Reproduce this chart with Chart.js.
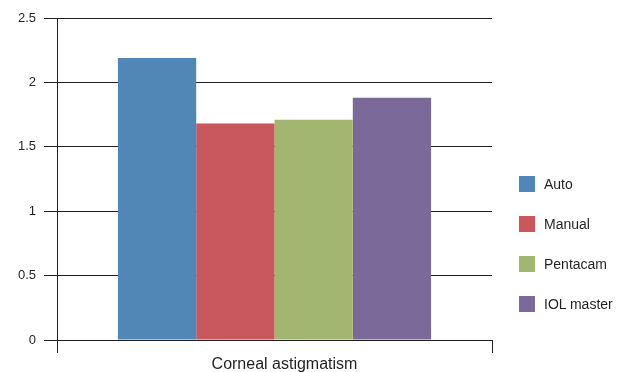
<!DOCTYPE html>
<html>
<head>
<meta charset="utf-8">
<script src="https://cdn.jsdelivr.net/npm/chart.js@4/dist/chart.umd.min.js"></script>
<style>
  body { margin: 0; background: #fff; }
  #wrap { position: relative; width: 622px; height: 372px; }
  #legend { position: absolute; left: 519px; top: 176px; font: 14px "Liberation Sans", Arial, sans-serif; color: #231f20; }
  .item { display: flex; align-items: center; height: 16px; margin-bottom: 24px; }
  .sw { width: 16px; height: 16px; margin-right: 9px; }
</style>
</head>
<body>
<div id="wrap">
  <canvas id="c" width="622" height="372"></canvas>
  <div id="legend"></div>
</div>
<script>
// data
const categories = ["Corneal astigmatism"];
const seriesNames = ["Auto", "Manual", "Pentacam", "IOL master"];
const seriesValues = [[2.19], [1.68], [1.71], [1.88]];
const seriesColors = ["#5087b7", "#c8575e", "#a2b66f", "#7a6999"];
const yTickLabels = ["0", "0.5", "1", "1.5", "2", "2.5"];
const ink = "#231f20";

// legend (html)
const leg = document.getElementById("legend");
seriesNames.forEach((n, i) => {
  const d = document.createElement("div");
  d.className = "item";
  d.innerHTML = `<span class="sw" style="background:${seriesColors[i]}"></span><span>${n}</span>`;
  leg.appendChild(d);
});

Chart.defaults.font.family = '"Liberation Sans", Arial, sans-serif';
Chart.defaults.color = ink;

new Chart(document.getElementById("c"), {
  type: "bar",
  data: {
    labels: categories,
    datasets: seriesNames.map((n, i) => ({
      label: n,
      data: seriesValues[i],
      backgroundColor: seriesColors[i],
      borderWidth: 0,
      barPercentage: 1,
      categoryPercentage: 0.72
    }))
  },
  options: {
    responsive: false,
    animation: false,
    layout: { padding: { top: 18, right: 130, left: 0, bottom: 0 } },
    plugins: { legend: { display: false }, tooltip: { enabled: false } },
    scales: {
      x: {
        grid: { offset: true, drawOnChartArea: false, tickLength: 13, color: ink },
        border: { color: ink },
        ticks: { font: { size: 16 }, padding: 2, labelOffset: 10 },
        afterFit: (s) => { s.height = 32; }
      },
      y: {
        min: 0, max: 2.5,
        ticks: { stepSize: 0.5, font: { size: 13 }, padding: 8, callback: (v, i) => yTickLabels[i] },
        grid: { color: ink, tickLength: 13 },
        border: { color: ink },
        afterFit: (s) => { s.width = 57; }
      }
    }
  }
});
</script>
</body>
</html>
